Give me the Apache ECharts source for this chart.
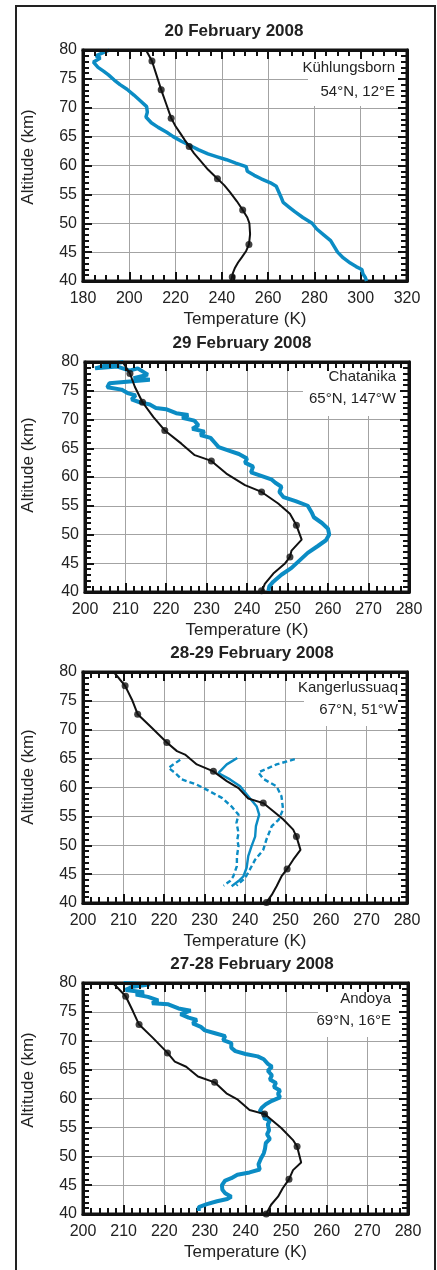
<!DOCTYPE html>
<html>
<head>
<meta charset="utf-8">
<script src="https://cdn.jsdelivr.net/npm/echarts@6/dist/echarts.min.js"></script>
<style>
html,body{margin:0;padding:0;background:#fff;}
#chart{width:437px;height:1270px;}
</style>
</head>
<body>
<div id="chart"></div>
<script>
// ---------- DATA ----------
const panelTitles = ['20 February 2008', '29 February 2008', '28-29 February 2008', '27-28 February 2008'];
const stationNames = ['Kühlungsborn', 'Chatanika', 'Kangerlussuaq', 'Andoya'];
const stationCoords = ['54°N, 12°E', '65°N, 147°W', '67°N, 51°W', '69°N, 16°E'];
const xAxisName = 'Temperature (K)';
const yAxisName = 'Altitude (km)';

// Panel 1 – Kühlungsborn
const p1BlackT   = [207.2,209.8,211.8,213.8,216,218.1,220,222,224,225.9,228,230.6,234,238.1,241,243.5,246.5,249,251,251.9,252.2,251.7,250.5,248.6,247,245.7,244.8,244];
const p1BlackAlt = [80,78.1,75.6,73.1,70.6,68.2,66.8,65.6,64.4,63.3,62.1,60.9,59.3,57.7,56.6,55.4,53.8,52.3,51,50,48.1,46.3,45.2,44.1,43.2,42.3,41.4,40];
const p1DotT     = [209.8,213.8,218.1,225.9,238.1,249,251.7,244.5];
const p1DotAlt   = [78.1,73.1,68.2,63.3,57.7,52.3,46.3,40.7];
const p1BlueT    = [191.5,188.5,185.5,187.5,184.5,186.5,189,191,193.5,196,199,202,204.5,207.5,207.8,207.2,209.5,212.5,216,219,222.5,226,230,234,238,242,246,250.5,251,254,257,261,263.5,264.5,265.5,266.5,269,271.5,275,279,281,284,287,288.5,290,292.5,295.5,298,300.5,301,302,302.5];
const p1BlueAlt  = [80,79.5,79,78.6,77.9,77,76.3,75.7,74.8,74,73.2,72.2,71.3,70.2,69.2,68.4,67.4,66.6,65.8,65,64.2,63.5,62.7,62,61.5,61,60.4,59.8,59,58.3,57.7,57,56.4,55.5,54.6,53.6,52.8,52,51,50,49,48,47,46,45,44,43.1,42.5,42,41.2,40.6,40];

// Panel 2 – Chatanika
const p2BlackT   = [209.3,211.1,212.3,214.2,216.9,219.7,223.8,227.1,231.2,234.9,239.5,243.6,247.7,250.6,252.2,253.5,251,250.6,249.3,246.5,244.4,243.6];
const p2BlackAlt = [80,78,75.7,73,70.4,68.1,65.8,63.8,62.8,60.6,58.6,57.4,55.4,53.6,51.6,49.1,47.2,46.1,44.9,43.2,41.4,40];
const p2DotT     = [211.1,214.2,219.7,231.2,243.6,252.2,250.6,243.6];
const p2DotAlt   = [78,73,68.1,62.8,57.4,51.6,46.1,40.2];
const p2BlueT    = [209.5,206,202.5,208,211,213,215.5,212,216,211,206,205.5,209,210.5,212.5,211.5,213.5,216,217.5,220,222.5,225.5,224,227,228,226.5,229.5,228.5,231,232,233,235.5,238,240,239.5,241.5,241,243.5,246,247,248.5,248,249,252,255,256,256.5,258.5,260,260.3,259.5,257.5,255,253,251,248.5,246.5,245.5,245.3];
const p2BlueAlt  = [80,79.6,78.9,79.2,78.5,78.9,77.8,77.2,76.9,76.6,76.3,75.6,75.2,74.6,74.2,73.5,73,72.6,72,71.8,71.1,70.8,70.3,69.8,69,68.4,67.9,67.3,66.8,66,65.2,64.6,64,63.2,62.5,61.8,60.8,60.2,59.6,59,58.3,57.4,56.5,55.8,55,53.8,53,52,51,50,49,48,46.8,45.5,44.2,43,41.8,41,40.2];

// Panel 3 – Kangerlussuaq
const p3BlackT   = [207.6,210.4,212.1,213.5,216.6,220.7,223.2,225.2,228.1,232.2,235.5,238.4,240.8,244.5,247,249.4,251.9,252.7,253.7,251.9,250.4,249,247.8,246.6,245.3];
const p3BlackAlt = [80,77.6,75.2,72.7,70.6,67.8,66.3,65.7,64,62.8,61.1,59.9,58.1,57.3,55.9,54.5,52.7,51.5,49.2,47.5,45.9,44.6,42.9,41.4,40.1];
const p3DotT     = [210.4,213.5,220.7,232.2,244.5,252.7,250.4,245.3];
const p3DotAlt   = [77.6,72.7,67.8,62.8,57.3,51.5,45.9,40.1];
const p3LowT     = [224,221.1,222.8,224.4,228.1,231.4,234.3,236.7,238.4,237.9,238.4,238.1,238.4,238,238,237.1,236.3,234.7];
const p3LowAlt   = [64.8,63.4,62.5,61.4,60.5,59.3,58.2,56.7,55.3,53.9,52.1,51,49.8,48.1,46.4,44.6,43.8,43];
const p3MeanT    = [238.1,235.5,233.4,236.3,238.8,240.8,242.9,243.5,242.7,242.5,241.6,240.8,240.4,239.6,238.4,236.7];
const p3MeanAlt  = [65.1,64,62.5,61.4,60.2,58.5,56.7,55.3,53.3,51.5,49.8,48.1,46.1,44.6,43.8,42.9];
const p3HighT    = [252.3,247.8,243.3,244.5,247.8,249,249.4,248.3,246.6,245.3,244.5,242.5,241.2,240,237.9];
const p3HighAlt  = [64.9,64,62.6,61.5,60.2,58.5,56.2,54.4,53.3,51,49.2,47.5,45.8,44.3,43];

// Panel 4 – Andoya
const p4BlackT   = [207.4,210.5,212.3,213.8,217.2,220.8,222.6,225.4,228.3,232.4,235.3,238.1,241,244.7,248.8,251.7,252.7,253.7,251.7,250.7,249.2,248,246.3,245.1];
const p4BlackAlt = [80,77.7,75.1,72.8,70.5,67.9,66.4,65.5,63.8,62.8,60.9,59.8,58,57.3,54.9,52.8,51.7,48.9,47.6,46,44.5,43,41.6,40];
const p4DotT     = [210.5,213.8,220.8,232.4,244.7,252.7,250.7,245.1];
const p4DotAlt   = [77.7,72.8,67.9,62.8,57.3,51.7,46,40];
const p4BlueT    = [210,216.5,212,210.5,215,213,216,218.5,217,221,223.5,226.5,224,226,228,227,229,230,232.5,235,234.5,236.5,236.5,237.5,240,243,244.5,245.5,246.5,245.5,246.5,246,247.5,247,248.5,248,248.5,246.5,245,244,243.5,245,244.5,246,245.5,245.8,245.3,246,245,244.8,244.5,243.8,243.2,243.5,241,238,236.5,235,234.2,234.3,235,236.5,235.5,233,230.5,228.5,228.5];
const p4BlueAlt  = [80,79.8,79.3,78.8,78.4,78,77.6,77,76.5,76.3,75.6,75.2,74.6,74,73.6,73,72.4,71.8,71.3,70.8,70.1,69.6,68.8,68.2,67.7,67.3,66.8,66,65.5,64.8,64,63.3,62.7,62,61.4,60.8,60.2,59.6,59,58.4,57.8,57.2,56.6,56.2,55.5,54.5,53.8,53,52.3,51.3,50.5,49.6,48.6,47.7,47.2,46.8,46.2,45.8,45,44.2,43.6,43,42.6,42.2,41.7,41.2,40.5];

// ---------- LAYOUT ----------
const FONT = "'Liberation Sans', Arial, Helvetica, sans-serif";
const BLUE = '#0b8cc4';
const INK = '#111';
const panelRects = [
  {left: 83, top: 50,  width: 324, height: 231},
  {left: 85, top: 362, width: 324, height: 230},
  {left: 83, top: 672, width: 324, height: 231},
  {left: 83, top: 983, width: 325, height: 231}
];
const xRanges = [[180, 320, 20, 4], [200, 280, 10, 5], [200, 280, 10, 5], [200, 280, 10, 5]];
const titlePos = [[234, 31], [242, 343], [252, 653], [252, 964]];
const yNamePos = [[28, 157], [28, 465], [28, 777], [28, 1080]];
const boxes = [
  {x: 308, y: 50,  w: 97,  h: 56, tx: 395, ty1: 68,  ty2: 92},
  {x: 303, y: 362, w: 104, h: 54, tx: 396, ty1: 377, ty2: 399},
  {x: 304, y: 672, w: 101, h: 54, tx: 398, ty1: 688, ty2: 710},
  {x: 318, y: 983, w: 88,  h: 54, tx: 391, ty1: 999, ty2: 1021}
];

const zip = (a, b) => a.map((v, i) => [v, b[i]]);

const mkLine = () => ({show: true, onZero: false, lineStyle: {color: INK, width: 3}});
const mkTick = () => ({show: true, inside: true, length: 9, lineStyle: {color: INK, width: 2}});
const mkMinor = n => ({show: true, splitNumber: n, length: 6, lineStyle: {color: INK, width: 2}});

const grids = [], xAxes = [], yAxes = [], titles = [], graphics = [], series = [];

graphics.push({type: 'rect', shape: {x: 16, y: 6, width: 419, height: 1290}, style: {fill: 'none', stroke: '#222', lineWidth: 2}, z: 0, silent: true});

// grids 0..3: data panels; grids 4..7: overlay grids carrying the right-hand tick axis
panelRects.forEach(r => grids.push(Object.assign({show: true, borderColor: INK, borderWidth: 3, backgroundColor: 'transparent'}, r)));
panelRects.forEach(r => grids.push(Object.assign({show: false}, r)));

panelRects.forEach((g, i) => {
  const [mn, mx, iv, ms] = xRanges[i];
  xAxes.push({
    type: 'value', gridIndex: i, min: mn, max: mx, interval: iv,
    name: xAxisName, nameLocation: 'middle', nameGap: 30,
    nameTextStyle: {fontSize: 17, color: '#222', fontFamily: FONT},
    axisLine: mkLine(), axisTick: mkTick(), minorTick: mkMinor(ms),
    axisLabel: {fontSize: 16, color: '#222', margin: 10, fontFamily: FONT},
    splitLine: {show: true, lineStyle: {color: '#a3a3a3', width: 1}}
  });
  xAxes.push({
    type: 'value', gridIndex: i, position: 'top', min: mn, max: mx, interval: iv,
    axisLine: mkLine(), axisTick: mkTick(), minorTick: mkMinor(ms),
    axisLabel: {show: false}, splitLine: {show: false}, z: 6
  });
  yAxes.push({
    type: 'value', gridIndex: i, min: 40, max: 80, interval: 5,
    axisLine: mkLine(), axisTick: mkTick(), minorTick: mkMinor(5),
    axisLabel: {fontSize: 16, color: '#222', margin: 6, fontFamily: FONT},
    splitLine: {show: true, lineStyle: {color: '#a3a3a3', width: 1}}
  });
  titles.push({
    text: panelTitles[i], left: titlePos[i][0], top: titlePos[i][1] - 10, textAlign: 'center', padding: 0,
    textStyle: {fontSize: 17, fontWeight: 'bold', color: '#222', fontFamily: FONT, lineHeight: 20}
  });
  const b = boxes[i];
  graphics.push({type: 'rect', shape: {x: b.x, y: b.y, width: b.w, height: b.h}, style: {fill: '#fff'}, z: 1, silent: true});
  graphics.push({type: 'text', x: b.tx, y: b.ty1, z: 7, style: {text: stationNames[i], fontSize: 15, fontFamily: FONT, fill: '#222', align: 'right', verticalAlign: 'middle'}});
  graphics.push({type: 'text', x: b.tx, y: b.ty2, z: 7, style: {text: stationCoords[i], fontSize: 15, fontFamily: FONT, fill: '#222', align: 'right', verticalAlign: 'middle'}});
  graphics.push({type: 'text', x: yNamePos[i][0], y: yNamePos[i][1], rotation: Math.PI / 2, z: 7,
    style: {text: yAxisName, fontSize: 17, fontFamily: FONT, fill: '#222', align: 'center', verticalAlign: 'middle'}});
});

// overlay axes: hidden x, right-hand y with inward ticks
panelRects.forEach((g, i) => {
  const [mn, mx] = xRanges[i];
  xAxes.push({type: 'value', gridIndex: 4 + i, min: mn, max: mx, show: false});
  yAxes.push({
    type: 'value', gridIndex: 4 + i, position: 'right', min: 40, max: 80, interval: 5,
    axisLine: mkLine(), axisTick: mkTick(), minorTick: mkMinor(5),
    axisLabel: {show: false}, splitLine: {show: false}, z: 6
  });
});

function blue(i, t, a, width, dashed) {
  return {type: 'line', xAxisIndex: 2 * i, yAxisIndex: i, data: zip(t, a), symbol: 'none', showSymbol: false,
    lineStyle: {color: BLUE, width, type: dashed ? [5, 3] : 'solid'}, z: 3};
}
function black(i, t, a) {
  return {type: 'line', xAxisIndex: 2 * i, yAxisIndex: i, data: zip(t, a), symbol: 'none', showSymbol: false,
    lineStyle: {color: INK, width: 2}, z: 4};
}
function dots(i, t, a) {
  return {type: 'scatter', xAxisIndex: 2 * i, yAxisIndex: i, data: zip(t, a), symbolSize: 7,
    itemStyle: {color: INK}, z: 5};
}

series.push(blue(0, p1BlueT, p1BlueAlt, 3.5), black(0, p1BlackT, p1BlackAlt), dots(0, p1DotT, p1DotAlt));
series.push(blue(1, p2BlueT, p2BlueAlt, 4), black(1, p2BlackT, p2BlackAlt), dots(1, p2DotT, p2DotAlt));
series.push(blue(2, p3LowT, p3LowAlt, 2.4, true), blue(2, p3MeanT, p3MeanAlt, 2.4), blue(2, p3HighT, p3HighAlt, 2.4, true),
            black(2, p3BlackT, p3BlackAlt), dots(2, p3DotT, p3DotAlt));
series.push(blue(3, p4BlueT, p4BlueAlt, 4), black(3, p4BlackT, p4BlackAlt), dots(3, p4DotT, p4DotAlt));

const chart = echarts.init(document.getElementById('chart'));
chart.setOption({
  animation: false,
  backgroundColor: '#fff',
  textStyle: {fontFamily: FONT},
  title: titles,
  grid: grids,
  xAxis: xAxes,
  yAxis: yAxes,
  graphic: graphics,
  series
});
</script>
</body>
</html>
